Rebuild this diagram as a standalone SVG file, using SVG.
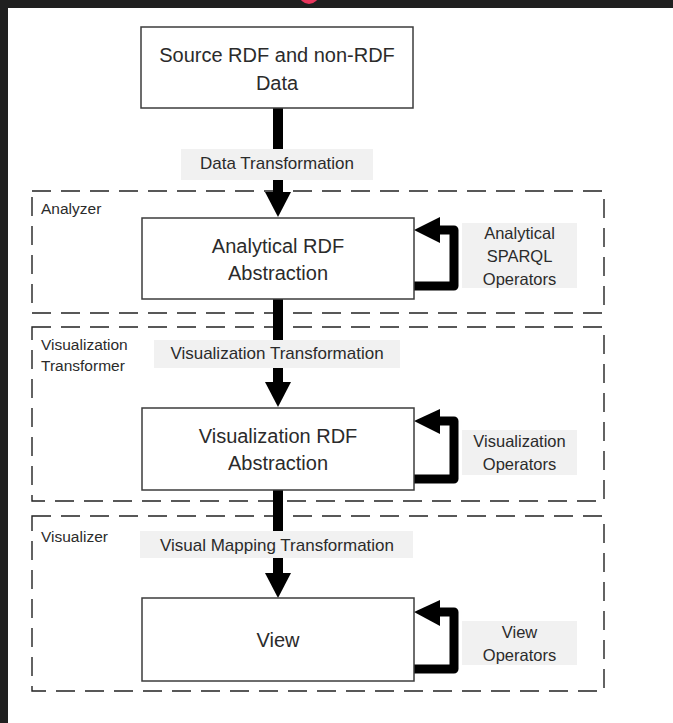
<svg xmlns="http://www.w3.org/2000/svg" width="673" height="723" viewBox="0 0 673 723">
  <style>
    .frame { fill: #202020; }
    .stage { fill: none; stroke: #222; stroke-width: 1.4; stroke-dasharray: 19 10; }
    .box { fill: #fff; stroke: #3c3c3c; stroke-width: 1.5; }
    .tag { fill: #f1f1f1; }
    .flow { stroke: #000; stroke-width: 10; fill: none; }
    .loop { stroke: #000; stroke-width: 9; fill: none; stroke-linejoin: round; }
    .head { fill: #000; }
    text { font-family: "Liberation Sans", Arial, sans-serif; fill: #2b2b2b; }
    .big { font-size: 20px; text-anchor: middle; }
    .mid { font-size: 17px; text-anchor: middle; }
    .op { font-size: 16.5px; text-anchor: middle; }
    .stage-name { font-size: 15.5px; }
  </style>

  <rect width="673" height="723" fill="#fff"/>
  <!-- window chrome -->
  <rect class="frame" x="0" y="0" width="673" height="8"/>
  <rect class="frame" x="0" y="0" width="8" height="723"/>
  <circle cx="309" cy="-6" r="10" fill="#e8365d"/>

  <!-- stage containers -->
  <g id="analyzer">
    <rect class="stage" x="32" y="191" width="572" height="122"/>
    <text class="stage-name" x="41" y="214">Analyzer</text>
  </g>
  <g id="visualization-transformer">
    <rect class="stage" x="32" y="327" width="572" height="174"/>
    <text class="stage-name" x="41" y="350">Visualization</text>
    <text class="stage-name" x="41" y="371">Transformer</text>
  </g>
  <g id="visualizer">
    <rect class="stage" x="32" y="516" width="572" height="175"/>
    <text class="stage-name" x="41" y="542">Visualizer</text>
  </g>

  <!-- connectors -->
  <g id="connectors">
    <line class="flow" x1="278" y1="108" x2="278" y2="194"/>
    <polygon class="head" points="265,192 291,192 278,217"/>
    <line class="flow" x1="278" y1="299" x2="278" y2="384"/>
    <polygon class="head" points="265,382 291,382 278,407"/>
    <line class="flow" x1="278" y1="490" x2="278" y2="575"/>
    <polygon class="head" points="265,573 291,573 278,598"/>

    <path class="loop" d="M414,286 H454 V230 H438"/>
    <polygon class="head" points="414,230 440,217 440,243"/>
    <path class="loop" d="M414,479 H454 V421 H438"/>
    <polygon class="head" points="414,421 440,409 440,434"/>
    <path class="loop" d="M414,669 H454 V612 H438"/>
    <polygon class="head" points="414,612 440,600 440,626"/>
  </g>

  <!-- transformation labels -->
  <g id="data-transformation">
    <rect class="tag" x="181" y="149" width="192" height="31"/>
    <text class="mid" x="277" y="169">Data Transformation</text>
  </g>
  <g id="visualization-transformation">
    <rect class="tag" x="154" y="340" width="246" height="28"/>
    <text class="mid" x="277" y="359">Visualization Transformation</text>
  </g>
  <g id="visual-mapping-transformation">
    <rect class="tag" x="140" y="531" width="273" height="27"/>
    <text class="mid" x="277" y="551">Visual Mapping Transformation</text>
  </g>

  <!-- data nodes -->
  <g id="source-data">
    <rect class="box" x="141" y="27" width="272" height="81"/>
    <text class="big" x="277" y="62">Source RDF and non-RDF</text>
    <text class="big" x="277" y="90">Data</text>
  </g>
  <g id="analytical-abstraction">
    <rect class="box" x="142" y="218" width="272" height="81"/>
    <text class="big" x="278" y="253">Analytical RDF</text>
    <text class="big" x="278" y="280">Abstraction</text>
  </g>
  <g id="visualization-abstraction">
    <rect class="box" x="142" y="408" width="272" height="82"/>
    <text class="big" x="278" y="443">Visualization RDF</text>
    <text class="big" x="278" y="470">Abstraction</text>
  </g>
  <g id="view">
    <rect class="box" x="142" y="598" width="272" height="83"/>
    <text class="big" x="278" y="647">View</text>
  </g>

  <!-- operator labels -->
  <g id="analytical-operators">
    <rect class="tag" x="462" y="223" width="115" height="65"/>
    <text class="op" x="519.5" y="239">Analytical</text>
    <text class="op" x="519.5" y="262">SPARQL</text>
    <text class="op" x="519.5" y="285">Operators</text>
  </g>
  <g id="visualization-operators">
    <rect class="tag" x="462" y="430" width="115" height="45"/>
    <text class="op" x="519.5" y="447">Visualization</text>
    <text class="op" x="519.5" y="470">Operators</text>
  </g>
  <g id="view-operators">
    <rect class="tag" x="462" y="621" width="115" height="44"/>
    <text class="op" x="519.5" y="638">View</text>
    <text class="op" x="519.5" y="661">Operators</text>
  </g>
</svg>
